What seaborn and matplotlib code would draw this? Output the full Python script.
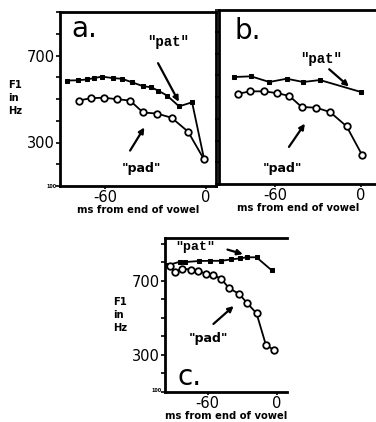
import numpy as np
import pandas as pd
import matplotlib
matplotlib.use("Agg")
import matplotlib.pyplot as plt
import seaborn as sns

# ---- data (ms from end of vowel, F1 in Hz) ----
a_pat_ms = [-82.6, -76.1, -70.7, -66.5, -61.8, -55.3, -49.9, -44.0, -37.4, -32.7, -28.5, -23.2, -16.0, -8.3, -1.2]
a_pat_hz = [585, 586, 590, 596, 603, 596, 593, 577, 559, 554, 539, 516, 466, 485, 225]
a_pad_ms = [-75.5, -68.3, -60.6, -52.9, -45.2, -37.4, -29.1, -20.5, -10.7, -1.2]
a_pad_hz = [493, 504, 506, 499, 493, 438, 433, 414, 350, 222]

b_pat_ms = [-88.4, -76.7, -64.0, -51.8, -40.3, -28.6, 0.0]
b_pat_hz = [592, 595, 569, 584, 569, 578, 523]
b_pad_ms = [-85.6, -77.4, -67.7, -58.8, -50.0, -41.4, -31.4, -21.6, -10.0, 0.9]
b_pad_hz = [515, 526, 526, 518, 505, 454, 451, 431, 365, 232]

c_pat_ms = [-95.0, -84.0, -80.0, -67.6, -58.3, -48.1, -39.4, -32.2, -26.3, -17.7, -4.6]
c_pat_hz = [783, 802, 800, 806, 807, 807, 815, 820, 826, 826, 756]
c_pad_ms = [-93.0, -88.7, -82.0, -74.2, -68.4, -61.1, -55.4, -48.1, -41.5, -32.8, -25.8, -17.7, -9.6, -2.6]
c_pad_hz = [778, 746, 765, 759, 752, 737, 732, 709, 659, 629, 579, 524, 354, 326]

xtick_vals = [-60, 0]
xtick_labels = ["-60", "0"]
ytick_vals = [300, 700]
ytick_labels = ["300", "700"]

sns.set_style("white")
plt.rcParams['font.family'] = ['DejaVu Sans']
plt.rcParams['text.color'] = 'black'
plt.rcParams['axes.labelcolor'] = 'black'
plt.rcParams['xtick.color'] = 'black'
plt.rcParams['ytick.color'] = 'black'

W, H = 376, 422
fig = plt.figure(figsize=(W / 100, H / 100), dpi=100)


def px_axes(l, t, r, b):
    return fig.add_axes([l / W, 1 - b / H, (r - l) / W, (b - t) / H])


def style_axes(ax, xlim, ylim, show_y=True, right=True):
    ax.set_xlim(*xlim)
    ax.set_ylim(*ylim)
    for s in ["left", "top", "bottom", "right"]:
        ax.spines[s].set_color("black")
        ax.spines[s].set_linewidth(2.0)
    ax.spines["right"].set_visible(right)
    ax.set_xticks(xtick_vals)
    ax.set_xticklabels(xtick_labels, fontsize=10.5)
    ax.set_yticks(ytick_vals)
    ax.set_yticks(np.arange(100, 901, 100), minor=True)
    if show_y:
        ax.set_yticklabels(ytick_labels, fontsize=10.5)
    else:
        ax.set_yticklabels([])
    ax.tick_params(axis="both", which="both", direction="out", length=3, width=1.2,
                   color="black", labelcolor="black", pad=1, left=True, bottom=True)
    ax.tick_params(axis="x", length=2)
    ax.set_xlabel("ms from end of vowel", fontsize=7.2, fontweight="heavy", labelpad=0,
                  color="black")
    ax.set_ylabel("")
    ax.grid(False)


def draw_series(ax, pat_x, pat_y, pad_x, pad_y):
    sns.lineplot(x=pat_x, y=pat_y, ax=ax, color="black", lw=1.3, sort=False,
                 marker="s", markersize=3, markerfacecolor="black",
                 markeredgecolor="black", estimator=None)
    sns.lineplot(x=pad_x, y=pad_y, ax=ax, color="black", lw=1.3, sort=False,
                 marker="o", markersize=4.7, markerfacecolor="white",
                 markeredgecolor="black", markeredgewidth=1.3, estimator=None)


arrow = dict(arrowstyle="-|>", color="black", lw=1.6, mutation_scale=8)

# ---- panel a ----
ax_a = px_axes(60, 12, 216, 186)
draw_series(ax_a, a_pat_ms, a_pat_hz, a_pad_ms, a_pad_hz)
style_axes(ax_a, (-86.7, 5.9), (100, 900))
ax_a.text(0.07, 0.90, "a.", transform=ax_a.transAxes, fontsize=20, ha="left", va="center")
ax_a.text(0.69, 0.83, "\"pat\"", transform=ax_a.transAxes, fontsize=10,
          family="Liberation Mono", fontweight="bold", ha="center", va="center")
ax_a.annotate("", xy=(0.77, 0.47), xytext=(0.62, 0.72), xycoords="axes fraction", arrowprops=arrow)
ax_a.text(0.52, 0.10, "\"pad\"", transform=ax_a.transAxes, fontsize=9,
          fontweight="bold", ha="center", va="center")
ax_a.annotate("", xy=(0.55, 0.35), xytext=(0.44, 0.19), xycoords="axes fraction", arrowprops=arrow)

# ---- panel b ----
ax_b = px_axes(219, 10, 378, 184)
draw_series(ax_b, b_pat_ms, b_pat_hz, b_pad_ms, b_pad_hz)
style_axes(ax_b, (-99.1, 11.9), (100, 900), show_y=False, right=False)
ax_b.text(0.10, 0.88, "b.", transform=ax_b.transAxes, fontsize=20, ha="left", va="center")
ax_b.text(0.64, 0.72, "\"pat\"", transform=ax_b.transAxes, fontsize=10,
          family="Liberation Mono", fontweight="bold", ha="center", va="center")
ax_b.annotate("", xy=(0.83, 0.55), xytext=(0.68, 0.67), xycoords="axes fraction", arrowprops=arrow)
ax_b.text(0.40, 0.09, "\"pad\"", transform=ax_b.transAxes, fontsize=9,
          fontweight="bold", ha="center", va="center")
ax_b.annotate("", xy=(0.55, 0.36), xytext=(0.43, 0.20), xycoords="axes fraction", arrowprops=arrow)

# ---- panel c ----
ax_c = px_axes(165, 238, 287, 392)
draw_series(ax_c, c_pat_ms, c_pat_hz, c_pad_ms, c_pad_hz)
style_axes(ax_c, (-97.0, 8.7), (100, 930), right=False)
ax_c.text(0.25, 0.94, "\"pat\"", transform=ax_c.transAxes, fontsize=9.5,
          family="Liberation Mono", fontweight="bold", ha="center", va="center")
ax_c.annotate("", xy=(0.66, 0.89), xytext=(0.49, 0.93), xycoords="axes fraction", arrowprops=arrow)
ax_c.text(0.36, 0.35, "\"pad\"", transform=ax_c.transAxes, fontsize=9,
          fontweight="bold", ha="center", va="center")
ax_c.annotate("", xy=(0.58, 0.57), xytext=(0.38, 0.43), xycoords="axes fraction", arrowprops=arrow)
ax_c.text(0.10, 0.10, "c.", transform=ax_c.transAxes, fontsize=20, ha="left", va="center")

# ---- y-axis labels and tiny "100" marks ----
for ax, xpx, ypx in [(ax_a, 8, 80), (ax_c, 113, 297)]:
    fig.text(xpx / W, 1 - ypx / H, "F1\nin\nHz", fontsize=7.2, fontweight="bold",
             ha="left", va="top", linespacing=1.35)
fig.text(52 / W, 1 - 186 / H, "100", fontsize=3.5, fontweight="bold", ha="center", va="center")
fig.text(157 / W, 1 - 391 / H, "100", fontsize=3.5, fontweight="bold", ha="center", va="center")

fig.savefig("out.png", dpi=100)
